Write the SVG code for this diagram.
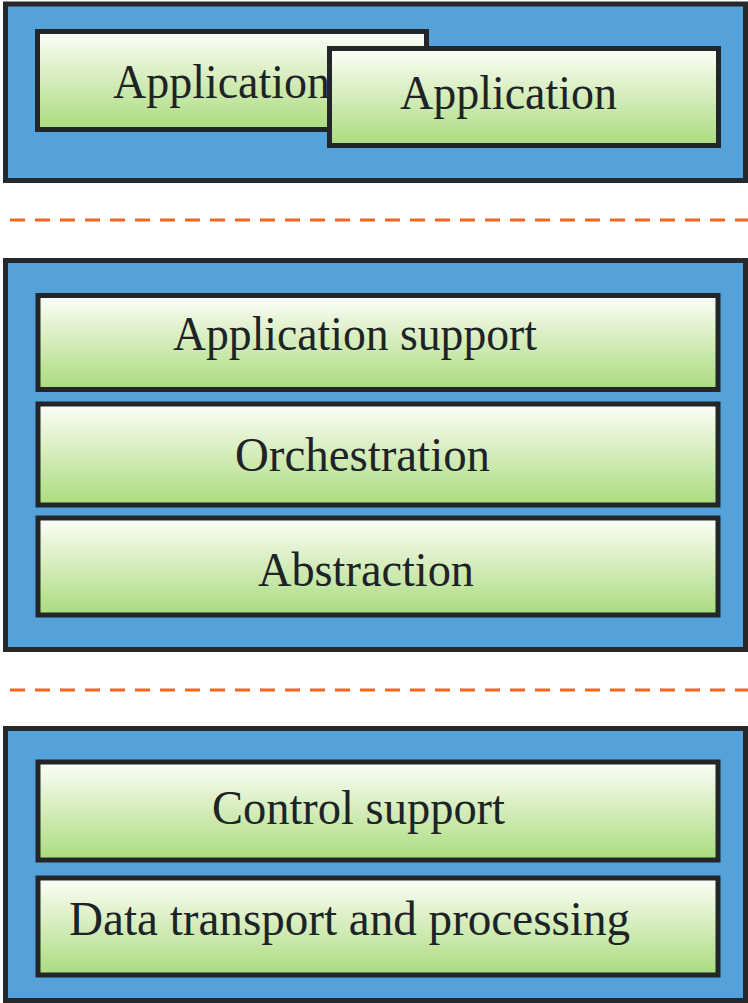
<svg xmlns="http://www.w3.org/2000/svg" width="748" height="1003" viewBox="0 0 748 1003">
  <defs>
    <linearGradient id="g" x1="0" y1="0" x2="0" y2="1">
      <stop offset="0" stop-color="#fcfef9"/>
      <stop offset="0.45" stop-color="#d8eec0"/>
      <stop offset="1" stop-color="#aadb7e"/>
    </linearGradient>
  </defs>
  <style>
    .outer { fill: #55a2db; stroke: #25292c; stroke-width: 5; }
    .inner { fill: url(#g); stroke: #222629; stroke-width: 5; }
    .lbl { font-family: "Liberation Serif", "Times New Roman", serif; font-size: 48px; fill: #1e2326; }
    .sep { stroke: #f26522; stroke-width: 3; stroke-dasharray: 15 10; fill: none; }
  </style>
  <rect width="748" height="1003" fill="#ffffff"/>

  <g id="application-layer">
    <rect class="outer" x="5.5" y="4" width="740" height="176.5"/>
    <g id="application-1">
      <rect class="inner" x="37.5" y="31.5" width="389" height="98"/>
      <text class="lbl" x="113" y="98" textLength="217" lengthAdjust="spacingAndGlyphs">Application</text>
    </g>
    <g id="application-2">
      <rect class="inner" x="329.5" y="48.5" width="389" height="97"/>
      <text class="lbl" x="400" y="109" textLength="217" lengthAdjust="spacingAndGlyphs">Application</text>
    </g>
  </g>

  <g id="connectors">
    <line class="sep" x1="10" y1="220" x2="748" y2="220"/>
    <line class="sep" x1="10" y1="690" x2="748" y2="690"/>
  </g>

  <g id="middle-layer">
    <rect class="outer" x="5.5" y="260.5" width="740" height="389"/>
    <g id="application-support">
      <rect class="inner" x="38" y="295.5" width="680" height="94"/>
      <text class="lbl" x="173" y="350" textLength="364" lengthAdjust="spacingAndGlyphs">Application support</text>
    </g>
    <g id="orchestration">
      <rect class="inner" x="38" y="404" width="680" height="101"/>
      <text class="lbl" x="235" y="471" textLength="255" lengthAdjust="spacingAndGlyphs">Orchestration</text>
    </g>
    <g id="abstraction">
      <rect class="inner" x="38" y="518" width="680" height="97"/>
      <text class="lbl" x="258" y="586" textLength="216" lengthAdjust="spacingAndGlyphs">Abstraction</text>
    </g>
  </g>

  <g id="bottom-layer">
    <rect class="outer" x="5.5" y="728.5" width="740" height="272"/>
    <g id="control-support">
      <rect class="inner" x="38" y="762" width="680" height="98"/>
      <text class="lbl" x="212" y="824" textLength="293" lengthAdjust="spacingAndGlyphs">Control support</text>
    </g>
    <g id="data-transport">
      <rect class="inner" x="38" y="878" width="680" height="97"/>
      <text class="lbl" x="69" y="935" textLength="561" lengthAdjust="spacingAndGlyphs">Data transport and processing</text>
    </g>
  </g>
</svg>
